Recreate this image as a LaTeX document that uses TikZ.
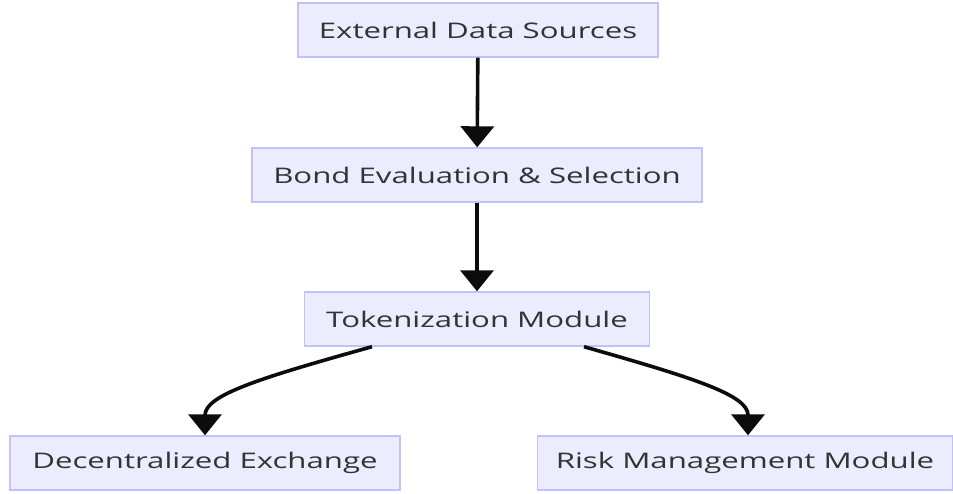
\documentclass[tikz,border=0pt]{standalone}
\usepackage{fontspec}
\setmainfont{Open Sans}[FakeStretch=1.45]
\usepackage{tikz}
\usetikzlibrary{arrows.meta, positioning}
\definecolor{boxfill}{RGB}{236,236,255}
\definecolor{boxline}{RGB}{196,192,250}
\definecolor{txtdark}{RGB}{51,51,51}
\definecolor{linkdark}{RGB}{12,12,12}
\tikzset{
  stage/.style={rectangle, draw=boxline, fill=boxfill, line width=1.4pt,
    minimum height=54pt, inner xsep=0pt, text=txtdark, font=\fontsize{21.5}{25}\selectfont},
  link/.style={-{Triangle[length=21pt, width=33pt]}, line width=3.6pt, color=linkdark}
}

\begin{document}
\begin{tikzpicture}[x=1pt, y=-1pt]
  \useasboundingbox (0,0) rectangle (953,493);

  % Pipeline stages
  \node[stage, minimum width=360pt] (src) at (478,30) {External Data Sources};
  \node[stage, minimum width=450pt] (eval) at (477,175) {Bond Evaluation \& Selection};
  \node[stage, minimum width=345pt] (token) at (477,319) {Tokenization Module};
  \node[stage, minimum width=390pt] (dex) at (205,463) {Decentralized Exchange};
  \node[stage, minimum width=415pt] (risk) at (745,463) {Risk Management Module};

  % Straight links
  \draw[link] (src) -- (eval);
  \draw[link] (eval) -- (token);

  % Branches out of the tokenization stage
  \draw[link] ([xshift=-105pt]token.south) .. controls (260,378) and (205,395) .. (dex.north);
  \draw[link] ([xshift=107pt]token.south) .. controls (694,378) and (748,395) .. ([xshift=3pt]risk.north);

\end{tikzpicture}
\end{document}
